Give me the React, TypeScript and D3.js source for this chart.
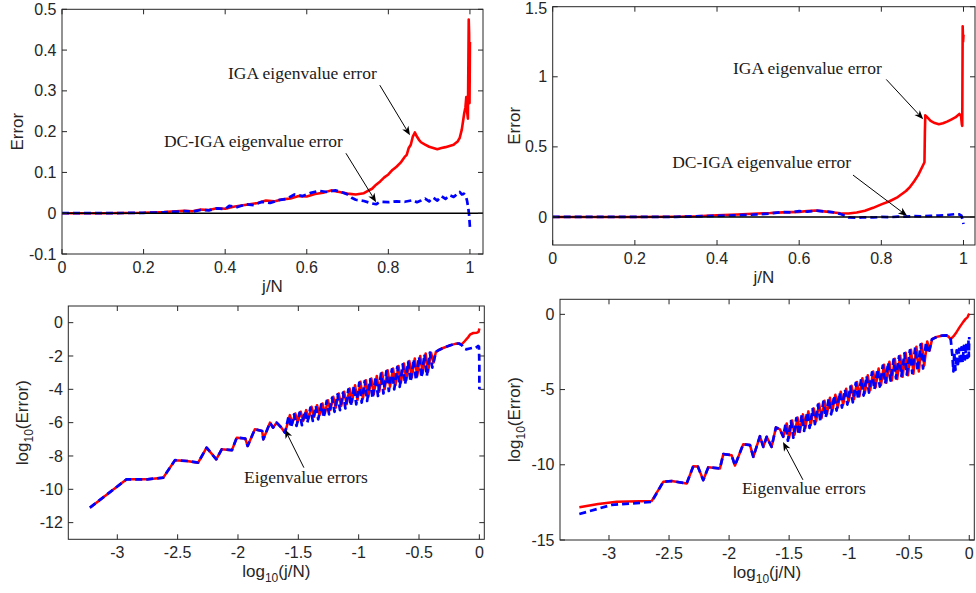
import React from 'react';
import * as d3 from 'd3';

type Pt = [number, number];

// ---------- tick values ----------
const xTicksLin = [0, 0.2, 0.4, 0.6, 0.8, 1];
const yTicksTL = [-0.1, 0, 0.1, 0.2, 0.3, 0.4, 0.5];
const yTicksTR = [0, 0.5, 1, 1.5];
const xTicksLog = [-3, -2.5, -2, -1.5, -1, -0.5, 0];
const yTicksBL = [-12, -10, -8, -6, -4, -2, 0];
const yTicksBR = [-15, -10, -5, 0];

// ---------- top-left: errors vs j/N ----------
const tlIga: Pt[] = [
  [0, 0], [0.1, 0], [0.2, 0.001], [0.25, 0.003], [0.28, 0.005], [0.3, 0.006], [0.32, 0.005], [0.34, 0.009],
  [0.36, 0.008], [0.38, 0.012], [0.4, 0.011], [0.42, 0.016], [0.44, 0.019], [0.46, 0.022], [0.48, 0.025],
  [0.5, 0.031], [0.52, 0.029], [0.54, 0.034], [0.56, 0.036], [0.58, 0.042], [0.6, 0.041], [0.62, 0.047],
  [0.64, 0.05], [0.66, 0.056], [0.68, 0.052], [0.7, 0.048], [0.72, 0.046], [0.74, 0.049], [0.75, 0.055],
  [0.76, 0.06], [0.77, 0.07], [0.78, 0.078], [0.79, 0.088], [0.8, 0.095], [0.81, 0.106], [0.82, 0.114],
  [0.83, 0.124], [0.84, 0.138], [0.845, 0.143], [0.85, 0.16], [0.855, 0.168], [0.86, 0.188], [0.865, 0.198],
  [0.87, 0.188], [0.875, 0.18], [0.88, 0.174], [0.89, 0.168], [0.9, 0.163], [0.91, 0.16], [0.92, 0.157],
  [0.93, 0.16], [0.94, 0.162], [0.95, 0.165], [0.96, 0.168], [0.965, 0.172], [0.97, 0.176], [0.975, 0.185],
  [0.98, 0.205], [0.983, 0.225], [0.986, 0.245], [0.989, 0.26], [0.991, 0.285], [0.993, 0.25], [0.995, 0.232],
  [0.997, 0.475], [0.998, 0.44], [0.999, 0.27], [1.0, 0.42],
];
const tlDc: Pt[] = [
  [0, 0], [0.1, 0], [0.2, 0.001], [0.25, 0.002], [0.3, 0.005], [0.32, 0.004], [0.34, 0.008], [0.36, 0.007],
  [0.38, 0.012], [0.4, 0.01], [0.41, 0.018], [0.43, 0.015], [0.45, 0.022], [0.47, 0.02], [0.49, 0.028],
  [0.51, 0.025], [0.53, 0.032], [0.55, 0.035], [0.57, 0.046], [0.59, 0.042], [0.61, 0.05], [0.63, 0.055],
  [0.65, 0.052], [0.67, 0.056], [0.69, 0.05], [0.7, 0.046], [0.71, 0.038], [0.72, 0.033], [0.74, 0.03],
  [0.76, 0.024], [0.77, 0.022], [0.78, 0.028], [0.8, 0.027], [0.82, 0.029], [0.84, 0.028], [0.86, 0.032],
  [0.87, 0.027], [0.88, 0.031], [0.89, 0.036], [0.9, 0.029], [0.91, 0.038], [0.92, 0.031], [0.93, 0.042],
  [0.94, 0.035], [0.95, 0.044], [0.96, 0.04], [0.97, 0.048], [0.975, 0.052], [0.98, 0.046], [0.985, 0.048],
  [0.99, 0.042], [0.993, 0.03], [0.996, 0.012], [0.998, -0.005], [1.0, -0.035],
];

// ---------- top-right ----------
const trIga: Pt[] = [
  [0, 0], [0.2, 0], [0.3, 0.002], [0.35, 0.005], [0.4, 0.012], [0.45, 0.018], [0.5, 0.025], [0.53, 0.028],
  [0.56, 0.033], [0.6, 0.036], [0.62, 0.042], [0.64, 0.046], [0.66, 0.04], [0.68, 0.034], [0.7, 0.027],
  [0.72, 0.025], [0.74, 0.032], [0.76, 0.045], [0.78, 0.065], [0.8, 0.09], [0.82, 0.112], [0.84, 0.142],
  [0.86, 0.185], [0.87, 0.215], [0.88, 0.255], [0.89, 0.3], [0.9, 0.36], [0.905, 0.39], [0.906, 0.6],
  [0.907, 0.725], [0.912, 0.71], [0.92, 0.685], [0.93, 0.67], [0.94, 0.662], [0.95, 0.668], [0.96, 0.68],
  [0.97, 0.695], [0.98, 0.71], [0.99, 0.735], [0.994, 0.72], [0.996, 0.66], [0.997, 0.65], [0.998, 1.36],
  [0.999, 1.25], [1.0, 1.3],
];
const trDc: Pt[] = [
  [0, 0], [0.2, 0], [0.3, 0.001], [0.4, 0.008], [0.45, 0.012], [0.5, 0.018], [0.53, 0.025], [0.56, 0.035],
  [0.58, 0.032], [0.6, 0.042], [0.62, 0.038], [0.64, 0.045], [0.66, 0.04], [0.68, 0.035], [0.7, 0.022],
  [0.72, -0.003], [0.74, -0.006], [0.76, -0.002], [0.78, -0.004], [0.8, 0.0], [0.82, -0.002], [0.84, 0.003],
  [0.86, 0.002], [0.88, 0.006], [0.9, 0.004], [0.92, 0.008], [0.94, 0.01], [0.96, 0.014], [0.98, 0.02],
  [0.99, 0.018], [0.995, 0.01], [1.0, -0.05],
];

// ---------- bottom-left: log10 error vs log10 j/N ----------
const blEarly: Pt[] = [
  [-3.227, -11.1], [-2.923, -9.4], [-2.75, -9.4], [-2.619, -9.3], [-2.522, -8.25], [-2.425, -8.3],
  [-2.33, -8.4], [-2.26, -7.5], [-2.18, -8.2], [-2.135, -7.6], [-2.05, -7.65], [-2.01, -6.9], [-1.94, -6.95],
  [-1.92, -7.4], [-1.86, -6.4], [-1.8, -6.5], [-1.79, -7.0], [-1.735, -6.0], [-1.71, -6.3], [-1.68, -6.0],
  [-1.64, -6.3], [-1.61, -6.6],
];
const blIgaBand: Pt[] = [
  [-1.57, -5.55], [-1.55, -6.05], [-1.525, -5.45], [-1.505, -5.95], [-1.48, -5.35], [-1.46, -5.9],
  [-1.435, -5.25], [-1.415, -5.75], [-1.39, -5.05], [-1.37, -5.65], [-1.345, -4.95], [-1.325, -5.55],
  [-1.3, -4.85], [-1.28, -5.45], [-1.255, -4.65], [-1.235, -5.25], [-1.21, -4.45], [-1.19, -5.1],
  [-1.165, -4.25], [-1.145, -5.0], [-1.12, -4.15], [-1.1, -4.9], [-1.075, -3.95], [-1.055, -4.75],
  [-1.03, -3.75], [-1.01, -4.65], [-0.985, -3.55], [-0.965, -4.55], [-0.94, -3.45], [-0.92, -4.45],
  [-0.895, -3.35], [-0.875, -4.3], [-0.85, -3.2], [-0.83, -4.15], [-0.805, -3.0], [-0.785, -4.0],
  [-0.76, -2.85], [-0.74, -3.85], [-0.715, -2.75], [-0.695, -3.75], [-0.67, -2.6], [-0.65, -3.6],
  [-0.625, -2.45], [-0.605, -3.45], [-0.58, -2.3], [-0.56, -3.3], [-0.535, -2.15], [-0.515, -3.2],
  [-0.49, -2.0], [-0.47, -3.05], [-0.445, -1.85], [-0.425, -2.95], [-0.4, -1.8], [-0.38, -2.4],
  [-0.36, -1.75], [-0.33, -1.62], [-0.3, -1.52], [-0.25, -1.38], [-0.2, -1.27], [-0.17, -1.25],
];
const blIgaTail: Pt[] = [
  [-0.146, -1.3], [-0.12, -1.1], [-0.09, -0.85], [-0.075, -0.7], [-0.05, -0.62], [-0.02, -0.6],
  [-0.006, -0.55], [0, -0.35],
];
const blDcBand: Pt[] = [
  [-1.58, -5.6], [-1.56, -6.3], [-1.535, -5.5], [-1.515, -6.2], [-1.49, -5.4], [-1.47, -6.15],
  [-1.445, -5.3], [-1.425, -6.0], [-1.4, -5.1], [-1.38, -5.9], [-1.355, -5.0], [-1.335, -5.8],
  [-1.31, -4.9], [-1.29, -5.7], [-1.265, -4.7], [-1.245, -5.5], [-1.22, -4.5], [-1.2, -5.35],
  [-1.175, -4.3], [-1.155, -5.25], [-1.13, -4.2], [-1.11, -5.15], [-1.085, -4.0], [-1.065, -5.0],
  [-1.04, -3.8], [-1.02, -4.9], [-0.995, -3.6], [-0.975, -4.8], [-0.95, -3.5], [-0.93, -4.7],
  [-0.905, -3.4], [-0.885, -4.55], [-0.86, -3.25], [-0.84, -4.4], [-0.815, -3.05], [-0.795, -4.25],
  [-0.77, -2.9], [-0.75, -4.1], [-0.725, -2.8], [-0.705, -4.0], [-0.68, -2.65], [-0.66, -3.85],
  [-0.635, -2.5], [-0.615, -3.7], [-0.59, -2.35], [-0.57, -3.55], [-0.545, -2.2], [-0.525, -3.45],
  [-0.5, -2.05], [-0.48, -3.3], [-0.455, -1.9], [-0.435, -3.2], [-0.41, -1.8], [-0.39, -2.7],
  [-0.36, -1.75], [-0.33, -1.62], [-0.3, -1.52], [-0.25, -1.38], [-0.2, -1.27], [-0.17, -1.25],
];
const blDcTail: Pt[] = [
  [-0.146, -1.35], [-0.13, -1.55], [-0.11, -1.6], [-0.08, -1.55], [-0.05, -1.5], [-0.03, -1.52],
  [-0.01, -1.4], [-0.003, -1.45], [0, -2.5], [0, -4.0],
];

// ---------- bottom-right ----------
const brIgaEarly: Pt[] = [
  [-3.247, -12.83], [-3.09, -12.61], [-2.936, -12.45], [-2.645, -12.41],
];
const brDcEarly: Pt[] = [
  [-3.247, -13.27], [-2.978, -12.67], [-2.645, -12.47],
];
const brShared: Pt[] = [
  [-2.548, -11.13], [-2.478, -11.08], [-2.353, -11.24], [-2.298, -10.09], [-2.26, -10.12], [-2.215, -11.02],
  [-2.173, -10.17], [-2.076, -10.24], [-2.048, -9.29], [-1.979, -9.36], [-1.951, -10.05], [-1.882, -8.63],
  [-1.826, -8.69], [-1.798, -9.47], [-1.743, -8.1], [-1.715, -8.81], [-1.687, -8.14], [-1.646, -8.81],
  [-1.61, -7.52], [-1.576, -7.65], [-1.549, -8.14],
];
const brIgaBand: Pt[] = [
  [-1.52, -7.25], [-1.5, -8.2], [-1.475, -7.05], [-1.455, -8.0], [-1.43, -6.85], [-1.41, -7.8],
  [-1.385, -6.65], [-1.365, -7.55], [-1.34, -6.45], [-1.32, -7.35], [-1.295, -6.25], [-1.275, -7.1],
  [-1.25, -5.95], [-1.23, -6.9], [-1.205, -5.75], [-1.185, -6.65], [-1.16, -5.55], [-1.14, -6.45],
  [-1.115, -5.35], [-1.095, -6.2], [-1.07, -5.15], [-1.05, -6.0], [-1.025, -4.95], [-1.005, -5.8],
  [-0.98, -4.75], [-0.96, -5.65], [-0.935, -4.5], [-0.915, -5.45], [-0.89, -4.25], [-0.87, -5.25],
  [-0.845, -4.05], [-0.825, -5.05], [-0.8, -3.8], [-0.78, -4.85], [-0.755, -3.6], [-0.735, -4.7],
  [-0.71, -3.35], [-0.69, -4.55], [-0.665, -3.15], [-0.645, -4.4], [-0.62, -2.95], [-0.6, -4.3],
  [-0.575, -2.75], [-0.555, -4.15], [-0.53, -2.55], [-0.51, -4.05], [-0.485, -2.35], [-0.465, -3.95],
  [-0.44, -2.15], [-0.42, -3.8], [-0.395, -1.95], [-0.375, -3.4], [-0.35, -1.8], [-0.33, -2.4],
  [-0.31, -1.65], [-0.27, -1.5], [-0.23, -1.42], [-0.19, -1.4], [-0.17, -1.5], [-0.155, -1.65],
];
const brIgaTail: Pt[] = [
  [-0.13, -1.45], [-0.105, -1.17], [-0.08, -0.85], [-0.05, -0.5], [-0.03, -0.3], [-0.015, -0.2],
  [-0.008, -0.07], [0, 0.05],
];
const brDcBand: Pt[] = [
  [-1.53, -7.3], [-1.51, -8.4], [-1.485, -7.1], [-1.465, -8.2], [-1.44, -6.9], [-1.42, -8.0],
  [-1.395, -6.7], [-1.375, -7.75], [-1.35, -6.5], [-1.33, -7.55], [-1.305, -6.3], [-1.285, -7.3],
  [-1.26, -6.0], [-1.24, -7.1], [-1.215, -5.8], [-1.195, -6.85], [-1.17, -5.6], [-1.15, -6.65],
  [-1.125, -5.4], [-1.105, -6.4], [-1.08, -5.2], [-1.06, -6.2], [-1.035, -5.0], [-1.015, -6.0],
  [-0.99, -4.8], [-0.97, -5.85], [-0.945, -4.55], [-0.925, -5.65], [-0.9, -4.3], [-0.88, -5.4],
  [-0.855, -4.1], [-0.835, -5.2], [-0.81, -3.85], [-0.79, -5.0], [-0.765, -3.65], [-0.745, -4.8],
  [-0.72, -3.4], [-0.7, -4.6], [-0.675, -3.2], [-0.655, -4.4], [-0.63, -3.0], [-0.61, -4.25],
  [-0.585, -2.8], [-0.565, -4.1], [-0.54, -2.6], [-0.52, -4.0], [-0.495, -2.4], [-0.475, -3.9],
  [-0.45, -2.2], [-0.43, -3.75], [-0.405, -2.0], [-0.385, -3.6], [-0.36, -1.85], [-0.34, -2.6],
  [-0.31, -1.65], [-0.27, -1.5], [-0.23, -1.42], [-0.19, -1.4], [-0.17, -1.45], [-0.155, -1.6],
];
const brDcTail: Pt[] = [
  [-0.14, -2.8], [-0.132, -3.8], [-0.125, -2.5], [-0.115, -3.7], [-0.105, -2.4], [-0.095, -3.5],
  [-0.085, -2.3], [-0.075, -3.3], [-0.065, -2.2], [-0.055, -3.2], [-0.045, -2.1], [-0.035, -3.0],
  [-0.025, -1.9], [-0.015, -2.9], [-0.007, -1.7], [-0.003, -2.8], [0, -1.5],
];

// ---------- rendering ----------
const RED = '#ff0000';
const BLUE = '#0000ff';
const AX = '#262626';
const SANS = '"Liberation Sans", Arial, Helvetica, sans-serif';
const SERIF = '"Liberation Serif", "Times New Roman", serif';

interface Series { data: Pt[]; color: string; dashed?: boolean; width: number }
interface Note { text: string; tx: number; ty: number; ax0: number; ay0: number; ax1: number; ay1: number }
interface Spec {
  id: string;
  left: number; right: number; top: number; bottom: number;
  xDomain: [number, number]; yDomain: [number, number];
  xTicks: number[]; yTicks: number[];
  series: Series[];
  zeroLine?: boolean;
  logLabels?: boolean;
  yTitleOffset: number;
  notes: Note[];
}

function Arrow({ x0, y0, x1, y1 }: { x0: number; y0: number; x1: number; y1: number }) {
  const ang = Math.atan2(y1 - y0, x1 - x0);
  const L = 9, W = 3.6, N = 6.5;
  const ca = Math.cos(ang), sa = Math.sin(ang);
  const bx = x1 - L * ca, by = y1 - L * sa;
  const nx = x1 - N * ca, ny = y1 - N * sa;
  const p1 = [bx - W * sa, by + W * ca];
  const p2 = [bx + W * sa, by - W * ca];
  return (
    <g>
      <line x1={x0} y1={y0} x2={nx} y2={ny} stroke="#000" strokeWidth={1} />
      <polygon points={`${x1},${y1} ${p1[0]},${p1[1]} ${nx},${ny} ${p2[0]},${p2[1]}`} fill="#000" />
    </g>
  );
}

function Panel({ s }: { s: Spec }) {
  const x = d3.scaleLinear().domain(s.xDomain).range([s.left, s.right]);
  const y = d3.scaleLinear().domain(s.yDomain).range([s.bottom, s.top]);
  const line = d3.line<Pt>().x((d) => x(d[0])).y((d) => y(d[1])).curve(d3.curveLinear);
  const tl = 5;
  const cx = (s.left + s.right) / 2;
  const cy = (s.top + s.bottom) / 2;
  const ytx = s.left - s.yTitleOffset;
  return (
    <g>
      <defs>
        <clipPath id={`clip-${s.id}`}>
          <rect x={s.left} y={s.top} width={s.right - s.left} height={s.bottom - s.top} />
        </clipPath>
      </defs>
      <rect x={s.left} y={s.top} width={s.right - s.left} height={s.bottom - s.top} fill="#fff" />
      <g clipPath={`url(#clip-${s.id})`}>
        {s.series.map((ser, i) => (
          <path
            key={i}
            d={line(ser.data) || ''}
            fill="none"
            stroke={ser.color}
            strokeWidth={ser.width}
            strokeDasharray={ser.dashed ? '7,4' : undefined}
            strokeLinejoin="round"
          />
        ))}
        {s.zeroLine && (
          <line x1={s.left} x2={s.right} y1={y(0)} y2={y(0)} stroke="#000" strokeWidth={1.4} />
        )}
      </g>
      {/* box */}
      <rect x={s.left} y={s.top} width={s.right - s.left} height={s.bottom - s.top} fill="none" stroke={AX} strokeWidth={1} />
      {/* ticks */}
      {s.xTicks.map((t) => (
        <g key={`xt${t}`}>
          <line x1={x(t)} x2={x(t)} y1={s.bottom} y2={s.bottom - tl} stroke={AX} strokeWidth={1} />
          <line x1={x(t)} x2={x(t)} y1={s.top} y2={s.top + tl} stroke={AX} strokeWidth={1} />
          <text x={x(t)} y={s.bottom + 18.7} textAnchor="middle" fontFamily={SANS} fontSize={16} fill={AX}>
            {String(t)}
          </text>
        </g>
      ))}
      {s.yTicks.map((t) => (
        <g key={`yt${t}`}>
          <line x1={s.left} x2={s.left + tl} y1={y(t)} y2={y(t)} stroke={AX} strokeWidth={1} />
          <line x1={s.right} x2={s.right - tl} y1={y(t)} y2={y(t)} stroke={AX} strokeWidth={1} />
          <text x={s.left - 5.5} y={Math.max(y(t) + 5.6, 13.5)} textAnchor="end" fontFamily={SANS} fontSize={16} fill={AX}>
            {String(t)}
          </text>
        </g>
      ))}
      {/* axis titles */}
      {s.logLabels ? (
        <>
          <text x={cx} y={s.bottom + 37.5} textAnchor="middle" fontFamily={SANS} fontSize={17} fill={AX}>
            log<tspan fontSize={12} dy={5}>10</tspan><tspan dy={-5}>(j/N)</tspan>
          </text>
          <text transform={`translate(${ytx},${cy}) rotate(-90)`} textAnchor="middle" fontFamily={SANS} fontSize={17} fill={AX}>
            log<tspan fontSize={12} dy={5}>10</tspan><tspan dy={-5}>(Error)</tspan>
          </text>
        </>
      ) : (
        <>
          <text x={cx} y={s.bottom + 37.5} textAnchor="middle" fontFamily={SANS} fontSize={17} fill={AX}>
            j/N
          </text>
          <text transform={`translate(${ytx},${cy}) rotate(-90)`} textAnchor="middle" fontFamily={SANS} fontSize={17} fill={AX}>
            Error
          </text>
        </>
      )}
      {/* annotations */}
      {s.notes.map((n, i) => (
        <g key={`n${i}`}>
          <text x={x(n.tx)} y={y(n.ty)} fontFamily={SERIF} fontSize={17.5} fill="#1a1a1a">
            {n.text}
          </text>
          <Arrow x0={x(n.ax0)} y0={y(n.ay0)} x1={x(n.ax1)} y1={y(n.ay1)} />
        </g>
      ))}
    </g>
  );
}

const specs: Spec[] = [
  {
    id: 'tl', left: 62, right: 483, top: 9.3, bottom: 254,
    xDomain: [0, 1.032], yDomain: [-0.1, 0.5], xTicks: xTicksLin, yTicks: yTicksTL,
    series: [
      { data: tlIga, color: RED, width: 2.6 },
      { data: tlDc, color: BLUE, dashed: true, width: 2.7 },
    ],
    zeroLine: true, yTitleOffset: 38.7,
    notes: [
      { text: 'IGA eigenvalue error', tx: 0.407, ty: 0.328, ax0: 0.779, ay0: 0.314, ax1: 0.853, ay1: 0.191 },
      { text: 'DC-IGA eigenvalue error', tx: 0.25, ty: 0.1625, ax0: 0.696, ay0: 0.147, ax1: 0.77, ay1: 0.027 },
    ],
  },
  {
    id: 'tr', left: 552.7, right: 975, top: 6.7, bottom: 245,
    xDomain: [0, 1.028], yDomain: [-0.2, 1.5], xTicks: xTicksLin, yTicks: yTicksTR,
    series: [
      { data: trIga, color: RED, width: 2.6 },
      { data: trDc, color: BLUE, dashed: true, width: 2.7 },
    ],
    zeroLine: true, yTitleOffset: 32.7,
    notes: [
      { text: 'IGA eigenvalue error', tx: 0.439, ty: 1.022, ax0: 0.812, ay0: 0.981, ax1: 0.902, ay1: 0.697 },
      { text: 'DC-IGA eigenvalue error', tx: 0.291, ty: 0.346, ax0: 0.731, ay0: 0.299, ax1: 0.863, ay1: 0.007 },
    ],
  },
  {
    id: 'bl', left: 68.3, right: 484.3, top: 306, bottom: 539.3,
    xDomain: [-3.406, 0.041], yDomain: [-13, 1], xTicks: xTicksLog, yTicks: yTicksBL,
    series: [
      { data: [...blEarly, ...blIgaBand, ...blIgaTail], color: RED, width: 2.5 },
      { data: [...blEarly, ...blDcBand, ...blDcTail], color: BLUE, dashed: true, width: 2.7 },
    ],
    logLabels: true, yTitleOffset: 40,
    notes: [
      { text: 'Eigenvalue errors', tx: -1.95, ty: -9.6, ax0: -1.454, ay0: -8.7, ax1: -1.612, ay1: -6.4 },
    ],
  },
  {
    id: 'br', left: 560, right: 974.3, top: 299.3, bottom: 540,
    xDomain: [-3.408, 0.042], yDomain: [-15, 1], xTicks: xTicksLog, yTicks: yTicksBR,
    series: [
      { data: [...brIgaEarly, ...brShared, ...brIgaBand, ...brIgaTail], color: RED, width: 2.5 },
      { data: [...brDcEarly, ...brShared, ...brDcBand, ...brDcTail], color: BLUE, dashed: true, width: 2.7 },
    ],
    logLabels: true, yTitleOffset: 40,
    notes: [
      { text: 'Eigenvalue errors', tx: -1.893, ty: -11.94, ax0: -1.385, ay0: -11.0, ax1: -1.551, ay1: -8.49 },
    ],
  },
];

export default function App() {
  return (
    <svg
      width={976}
      height={593}
      viewBox="0 0 976 593"
      style={{ position: 'absolute', left: 0, top: 0, background: '#fff' }}
    >
      <rect x={0} y={0} width={976} height={593} fill="#fff" />
      {specs.map((s) => (
        <Panel key={s.id} s={s} />
      ))}
    </svg>
  );
}
